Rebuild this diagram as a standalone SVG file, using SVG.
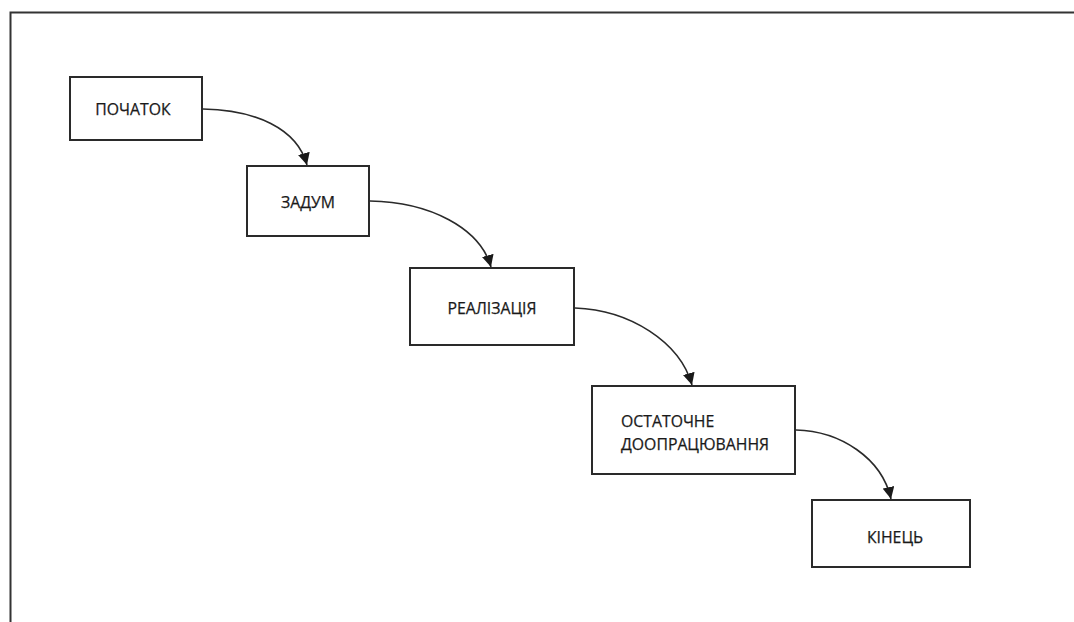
<svg xmlns="http://www.w3.org/2000/svg" width="1074" height="622" viewBox="0 0 1074 622">
<defs>
<style>
.box{fill:#fff;stroke:#2a2a2a;stroke-width:2}
.lbl{font-family:"Open Sans","Liberation Sans",sans-serif;font-size:15.8px;fill:#1a1a1a;stroke:#1a1a1a;stroke-width:0.25}
.edge{fill:none;stroke:#2a2a2a;stroke-width:1.6}
</style>
<marker id="arr" viewBox="0 0 10 10" refX="10" refY="5" markerWidth="12" markerHeight="12" markerUnits="userSpaceOnUse" orient="auto">
<path d="M0,0 L10,5 L0,10 Z" fill="#1a1a1a"/>
</marker>
</defs>
<rect width="1074" height="622" fill="#fff"/>
<g id="frame">
<path d="M10.5,622 L10.5,12.5 L1074,12.5" fill="none" stroke="#333" stroke-width="2"/>
</g>
<g id="n1"><rect class="box" x="70" y="77" width="132" height="63"/><text class="lbl" x="133" y="115" text-anchor="middle">ПОЧАТОК</text></g>
<g id="n2"><rect class="box" x="247" y="166" width="122" height="70"/><text class="lbl" x="308" y="208" text-anchor="middle">ЗАДУМ</text></g>
<g id="n3"><rect class="box" x="410" y="268" width="164" height="77"/><text class="lbl" x="492" y="314" text-anchor="middle">РЕАЛІЗАЦІЯ</text></g>
<g id="n4"><rect class="box" x="592" y="386" width="203" height="88"/><text class="lbl" x="621" y="427">ОСТАТОЧНЕ</text><text class="lbl" x="621" y="450">ДООПРАЦЮВАННЯ</text></g>
<g id="n5"><rect class="box" x="812" y="500" width="158" height="67"/><text class="lbl" x="895" y="543" text-anchor="middle">КІНЕЦЬ</text></g>
<g id="connectors">
<path class="edge" d="M203,109 C255,110 297,128 307,165" marker-end="url(#arr)"/>
<path class="edge" d="M370,201 C430,202 480,228 491,267" marker-end="url(#arr)"/>
<path class="edge" d="M575,308 C630,310 680,342 692,385" marker-end="url(#arr)"/>
<path class="edge" d="M796,430 C840,431 882,458 891,499" marker-end="url(#arr)"/>
</g>
</svg>
